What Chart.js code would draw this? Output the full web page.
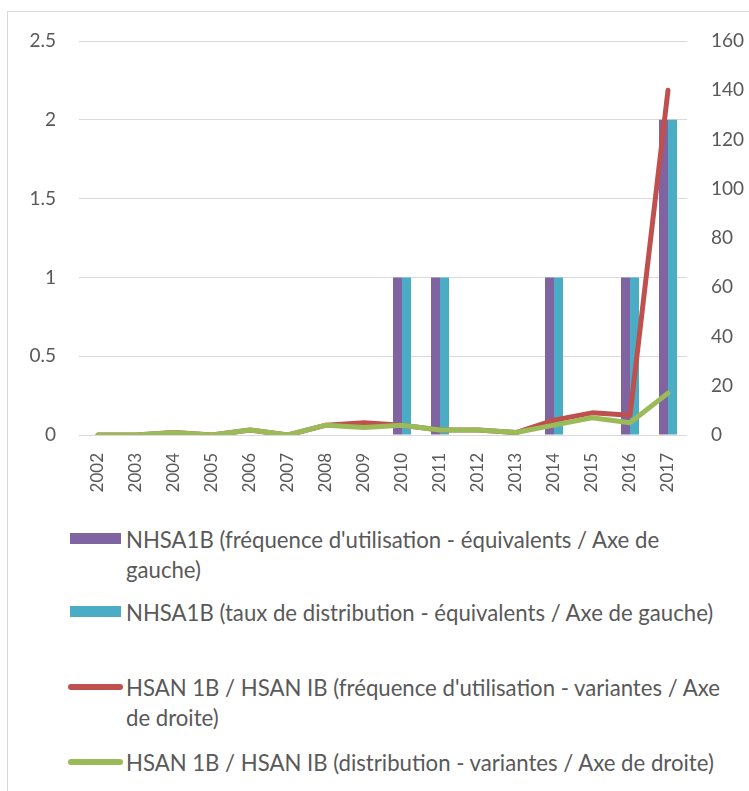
<!DOCTYPE html>
<html>
<head>
<meta charset="utf-8">
<script src="https://cdn.jsdelivr.net/npm/chart.js@4.4.1/dist/chart.umd.min.js"></script>
<style>
  body { margin: 0; background: #fff; width: 749px; height: 791px; overflow: hidden; position: relative; font-family: Lato, sans-serif; color: #595959; }
  #frame { position: absolute; left: 7px; top: 11px; width: 800px; height: 800px; border: 1px solid #d9d9d9; }
  #chart { position: absolute; left: 0; top: 0; }
  .item { position: absolute; left: 0; width: 749px; }
  .swatch { position: absolute; }
  .text { position: absolute; left: 126px; font-size: 23px; line-height: 30px; transform-origin: 0 0; white-space: normal; }
</style>
</head>
<body>
<div id="frame"></div>
<canvas id="chart" width="749" height="510"></canvas>
<div id="legend"></div>
<script>
const YEARS = ["2002", "2003", "2004", "2005", "2006", "2007", "2008", "2009",
  "2010", "2011", "2012", "2013", "2014", "2015", "2016", "2017"];

// left axis (bars)
const FREQ_EQUIV = [0, 0, 0, 0, 0, 0, 0, 0, 1, 1, 0, 0, 1, 0, 1, 2];
const DIST_EQUIV = [0, 0, 0, 0, 0, 0, 0, 0, 1, 1, 0, 0, 1, 0, 1, 2];

// right axis (lines)
const FREQ_VAR = [0, 0, 1, 0, 2, 0, 4, 5, 4, 2, 2, 1, 6, 9, 8, 140];
const DIST_VAR = [0, 0, 1, 0, 2, 0, 4, 3, 4, 2, 2, 1, 4, 7, 5, 17];

const LEFT_TICKS = [0, 0.5, 1, 1.5, 2, 2.5];
const RIGHT_TICKS = [0, 20, 40, 60, 80, 100, 120, 140, 160];

const LABELS = [
  "NHSA1B (fréquence d'utilisation - équivalents / Axe de gauche)",
  "NHSA1B (taux de distribution - équivalents / Axe de gauche)",
  "HSAN 1B / HSAN IB (fréquence d'utilisation - variantes / Axe de droite)",
  "HSAN 1B / HSAN IB (distribution - variantes / Axe de droite)",
];

const TEXT = "#595959";
const GRID = "#d9d9d9";

const tickFont = { family: "Lato", size: 19 };

const chart = new Chart(document.getElementById("chart").getContext("2d"), {
  type: "bar",
  data: {
    labels: YEARS,
    datasets: [
      {
        label: LABELS[0],
        data: FREQ_EQUIV,
        backgroundColor: "#8064a2",
        yAxisID: "y",
        order: 2,
      },
      {
        label: LABELS[1],
        data: DIST_EQUIV,
        backgroundColor: "#4bacc6",
        yAxisID: "y",
        order: 2,
      },
      {
        type: "line",
        label: LABELS[2],
        data: FREQ_VAR,
        borderColor: "#c0504d",
        backgroundColor: "#c0504d",
        borderWidth: 5,
        borderCapStyle: "round",
        borderJoinStyle: "round",
        pointRadius: 0,
        tension: 0,
        yAxisID: "y1",
        order: 1,
      },
      {
        type: "line",
        label: LABELS[3],
        data: DIST_VAR,
        borderColor: "#9bbb59",
        backgroundColor: "#9bbb59",
        borderWidth: 5,
        borderCapStyle: "round",
        borderJoinStyle: "round",
        pointRadius: 0,
        tension: 0,
        yAxisID: "y1",
        order: 0,
      },
    ],
  },
  options: {
    responsive: false,
    animation: false,
    devicePixelRatio: 1,
    categoryPercentage: 18 / 38,
    barPercentage: 1,
    layout: { padding: { top: 41, left: 0, right: 0, bottom: 0 } },
    plugins: { legend: { display: false }, tooltip: { enabled: false } },
    scales: {
      x: {
        grid: { display: false, drawTicks: false },
        border: { display: false },
        ticks: {
          color: TEXT,
          font: { family: "Lato", size: 17 },
          minRotation: 90,
          maxRotation: 90,
          autoSkip: false,
          padding: 18,
        },
        afterFit: (scale) => { scale.height = 75; },
      },
      y: {
        position: "left",
        min: 0,
        max: 2.5,
        grid: { color: GRID, lineWidth: 1, drawTicks: false },
        border: { display: false },
        ticks: { color: TEXT, font: tickFont, padding: 23, callback: (v) => String(v) },
        afterBuildTicks: (scale) => { scale.ticks = LEFT_TICKS.map((v) => ({ value: v })); },
        afterFit: (scale) => { scale.width = 79; },
      },
      y1: {
        position: "right",
        min: 0,
        max: 160,
        grid: { display: false, drawTicks: false },
        border: { display: false },
        ticks: { color: TEXT, font: tickFont, padding: 24, callback: (v) => String(v) },
        afterBuildTicks: (scale) => { scale.ticks = RIGHT_TICKS.map((v) => ({ value: v })); },
        afterFit: (scale) => { scale.width = 62; },
      },
    },
  },
});

// html legend, built from the datasets
const legendTops = [524, 597, 672, 747];
const measure = document.createElement("canvas").getContext("2d");
measure.font = "23px Lato";
const squeeze = 588 / measure.measureText(LABELS[1]).width;
const legend = document.getElementById("legend");
chart.data.datasets.forEach((ds, i) => {
  const item = document.createElement("div");
  item.className = "item";
  item.style.top = legendTops[i] + "px";
  const sw = document.createElement("div");
  sw.className = "swatch";
  if (ds.type === "line") {
    Object.assign(sw.style, { left: "68px", top: "12px", width: "55px", height: "6px", borderRadius: "3px", background: ds.borderColor });
  } else {
    Object.assign(sw.style, { left: "70px", top: "9px", width: "51px", height: "11px", background: ds.backgroundColor });
  }
  const txt = document.createElement("div");
  txt.className = "text";
  txt.textContent = ds.label;
  txt.style.width = (600 / squeeze) + "px";
  txt.style.transform = "scaleX(" + squeeze + ")";
  item.appendChild(sw);
  item.appendChild(txt);
  legend.appendChild(item);
});
</script>
</body>
</html>
